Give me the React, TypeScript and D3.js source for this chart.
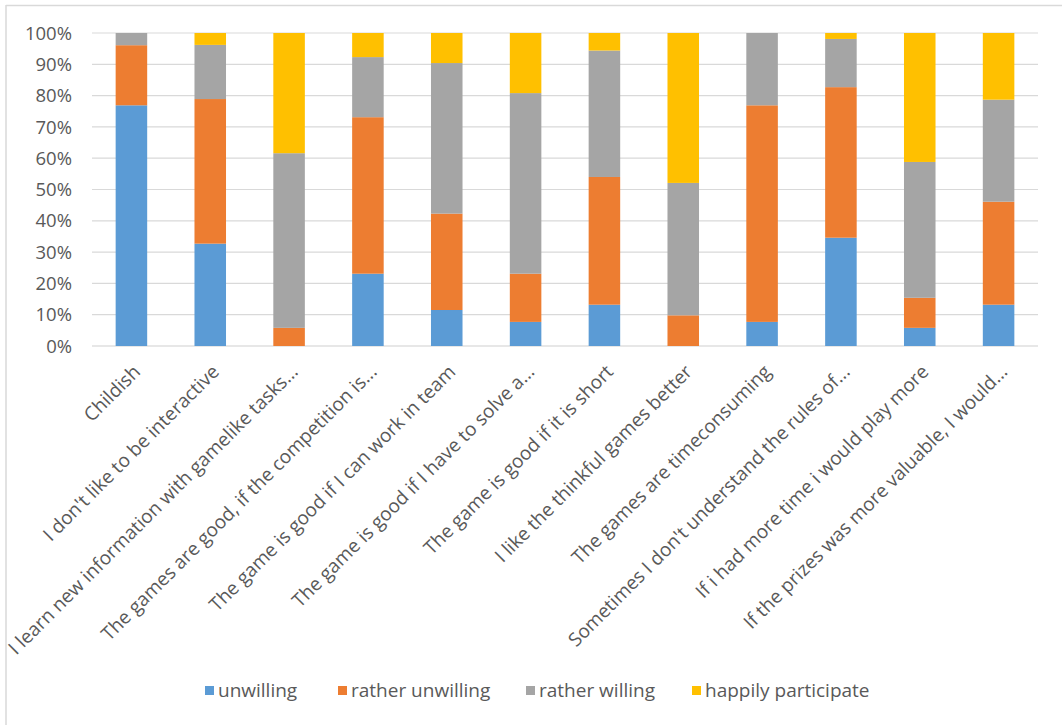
import React from "react";
import * as d3 from "d3";

const categories = [
  "Childish",
  "I don't like to be interactive",
  "I learn new information with gamelike tasks...",
  "The games are good, if the competition is...",
  "The game is good if I can work in team",
  "The game is good if I have to solve a...",
  "The game is good if it is short",
  "I like the thinkful games better",
  "The games are timeconsuming",
  "Sometimes I don't understand the rules of...",
  "If i had more time i would play more",
  "If the prizes was more valuable, I would...",
];

const seriesNames = ["unwilling", "rather unwilling", "rather willing", "happily participate"];
const seriesColors = ["#5B9BD5", "#ED7D31", "#A5A5A5", "#FFC000"];

const unwilling = [76.9, 32.7, 0, 23.1, 11.5, 7.7, 13.2, 0, 7.7, 34.6, 5.8, 13.2];
const ratherUnwilling = [19.2, 46.2, 5.8, 50.0, 30.8, 15.4, 40.8, 9.8, 69.2, 48.1, 9.6, 32.9];
const ratherWilling = [3.9, 17.3, 55.8, 19.2, 48.1, 57.7, 40.4, 42.3, 23.1, 15.4, 43.4, 32.6];
const happilyParticipate = [0, 3.8, 38.4, 7.7, 9.6, 19.2, 5.6, 47.9, 0, 1.9, 41.2, 21.3];

const yTicks = [0, 10, 20, 30, 40, 50, 60, 70, 80, 90, 100];

const W = 1062;
const H = 725;
const plot = { left: 92, right: 1038, top: 33, bottom: 346 };
const textColor = "#595959";
const font = "'Open Sans', 'DejaVu Sans', sans-serif";

export default function App() {
  const x = d3
    .scaleBand<string>()
    .domain(categories)
    .range([plot.left, plot.right])
    .paddingInner(0.6)
    .paddingOuter(0.3);
  const y = d3.scaleLinear().domain([0, 100]).range([plot.bottom, plot.top]);

  const rows = categories.map((c, i) => ({
    cat: c,
    unwilling: unwilling[i],
    ratherUnwilling: ratherUnwilling[i],
    ratherWilling: ratherWilling[i],
    happilyParticipate: happilyParticipate[i],
  }));
  const keys = ["unwilling", "ratherUnwilling", "ratherWilling", "happilyParticipate"];
  const stack = d3
    .stack<any>()
    .keys(keys)
    .offset(d3.stackOffsetExpand);
  const stacked = stack(rows);

  const legendX = [205, 338, 526, 692];

  return (
    <svg
      width={W}
      height={H}
      style={{ position: "absolute", left: 0, top: 0, background: "#fff" }}
      fontFamily={font}
    >
      <rect x={0} y={0} width={W} height={H} fill="#fff" />
      <line x1={6} x2={W} y1={5.5} y2={5.5} stroke="#d9d9d9" strokeWidth={1.5} />
      <line x1={6} x2={6} y1={5} y2={H} stroke="#d9d9d9" strokeWidth={1.5} />

      {yTicks.map((t) => (
        <g key={t}>
          <line
            x1={plot.left}
            x2={plot.right}
            y1={y(t)}
            y2={y(t)}
            stroke={t === 0 ? "#d0d0d0" : "#d9d9d9"}
            strokeWidth={1.2}
          />
          <text
            x={72}
            y={y(t)}
            dy="0.36em"
            textAnchor="end"
            fontSize={18.5}
            fill={textColor}
          >
            {t}%
          </text>
        </g>
      ))}

      {stacked.map((s, si) => (
        <g key={s.key} fill={seriesColors[si]}>
          {s.map((d, i) => {
            const h = y(d[0] * 100) - y(d[1] * 100);
            if (h <= 0) return null;
            return (
              <rect
                key={i}
                x={x(categories[i])}
                y={y(d[1] * 100)}
                width={x.bandwidth()}
                height={h}
              />
            );
          })}
        </g>
      ))}

      {categories.map((c) => {
        const cx = (x(c) as number) + x.bandwidth() / 2;
        return (
          <text
            key={c}
            transform={`translate(${cx + 10},${373}) rotate(-45)`}
            textAnchor="end"
            fontSize={19}
            fill={textColor}
          >
            {c}
          </text>
        );
      })}

      {seriesNames.map((n, i) => (
        <g key={n}>
          <rect x={legendX[i]} y={686} width={9} height={9} fill={seriesColors[i]} />
          <text x={legendX[i] + 13} y={690.5} dy="0.36em" fontSize={19} fill={textColor}>
            {n}
          </text>
        </g>
      ))}
    </svg>
  );
}
